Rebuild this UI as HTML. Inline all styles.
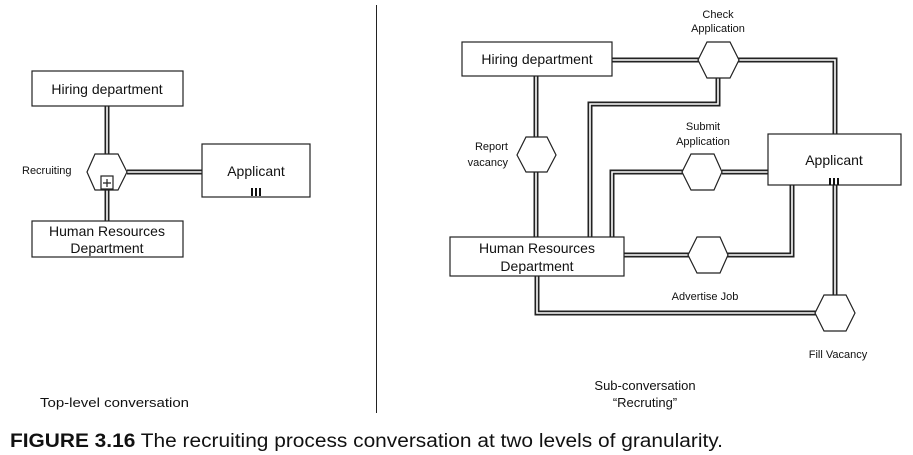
<!DOCTYPE html>
<html><head><meta charset="utf-8"><style>
html,body{margin:0;padding:0;background:#fff;}
svg{display:block;}
text{font-family:"Liberation Sans",Arial,sans-serif;fill:#111;}
</style></head><body>
<svg width="913" height="455" viewBox="0 0 913 455" xmlns="http://www.w3.org/2000/svg">
<g fill="none" stroke-linejoin="miter">
<!-- double lines: dark wide + white thin -->
<g stroke="#222" stroke-width="5">
<path d="M107 106V155M107 189V221M127 172H202"/>
<path d="M612 60H699M737 60H835V134"/>
<path d="M536 76V138M536 172V237"/>
<path d="M718 78V104H590V237"/>
<path d="M768 172H722M683 172H612V237"/>
<path d="M624 255H689M727 255H792V185"/>
<path d="M537 276V313H816"/>
<path d="M835 185V296"/>
</g>
<g stroke="#fff" stroke-width="1.6">
<path d="M107 106V155M107 189V221M127 172H202"/>
<path d="M612 60H699M737 60H835V134"/>
<path d="M536 76V138M536 172V237"/>
<path d="M718 78V104H590V237"/>
<path d="M768 172H722M683 172H612V237"/>
<path d="M624 255H689M727 255H792V185"/>
<path d="M537 276V313H816"/>
<path d="M835 185V296"/>
</g>
</g>
<g fill="#fff" stroke="#222" stroke-width="1.2">
<rect x="32" y="71" width="151" height="35"/>
<rect x="202" y="144" width="108" height="53"/>
<rect x="32" y="221" width="151" height="36"/>
<polygon points="95,154 118,154 127,172 118,190 95,190 87,172"/>
<rect x="101" y="176" width="12" height="13"/>
<rect x="462" y="42" width="150" height="34"/>
<rect x="768" y="134" width="133" height="51"/>
<rect x="450" y="237" width="174" height="39"/>
<polygon points="707,42 730,42 739,60 730,78 707,78 698,60"/>
<polygon points="526,137 547,137 556,155 547,172 526,172 517,155"/>
<polygon points="691,154 714,154 722,172 714,190 691,190 682,172"/>
<polygon points="697,237 720,237 728,255 720,273 697,273 688,255"/>
<polygon points="824,295 846,295 855,313 846,331 824,331 815,313"/>
</g>
<path d="M107 179V187M103 183H111" stroke="#222" stroke-width="1.2"/>
<g fill="#111">
<rect x="251" y="188" width="2" height="8"/><rect x="255" y="188" width="2" height="8"/><rect x="259" y="188" width="2" height="8"/>
<rect x="829" y="178" width="2" height="7"/><rect x="833" y="178" width="2" height="7"/><rect x="837" y="178" width="2" height="7"/>
</g>
<line x1="376.5" y1="5" x2="376.5" y2="413" stroke="#222" stroke-width="1"/>
<g font-size="14" text-anchor="middle">
<text x="107" y="94">Hiring department</text>
<text x="256" y="176">Applicant</text>
<text x="107" y="236">Human Resources</text>
<text x="107" y="253">Department</text>
<text x="537" y="64">Hiring department</text>
<text x="834" y="165">Applicant</text>
<text x="537" y="253">Human Resources</text>
<text x="537" y="271">Department</text>
</g>
<g font-size="11">
<text x="22" y="174">Recruiting</text>
<text x="718" y="18" text-anchor="middle">Check</text>
<text x="718" y="32" text-anchor="middle">Application</text>
<text x="508" y="150" text-anchor="end">Report</text>
<text x="508" y="166" text-anchor="end">vacancy</text>
<text x="703" y="130" text-anchor="middle">Submit</text>
<text x="703" y="145" text-anchor="middle">Application</text>
<text x="705" y="300" text-anchor="middle">Advertise Job</text>
<text x="838" y="358" text-anchor="middle">Fill Vacancy</text>
<text x="40" y="407" textLength="149" lengthAdjust="spacingAndGlyphs" font-size="13">Top-level conversation</text>
<text x="645" y="390" text-anchor="middle" font-size="13">Sub-conversation</text>
<text x="645" y="407" text-anchor="middle" font-size="13">“Recruting”</text>
</g>
<text x="10" y="447" font-size="19" textLength="713" lengthAdjust="spacingAndGlyphs"><tspan font-weight="bold">FIGURE 3.16</tspan>  The recruiting process conversation at two levels of granularity.</text>
</svg>
</body></html>
